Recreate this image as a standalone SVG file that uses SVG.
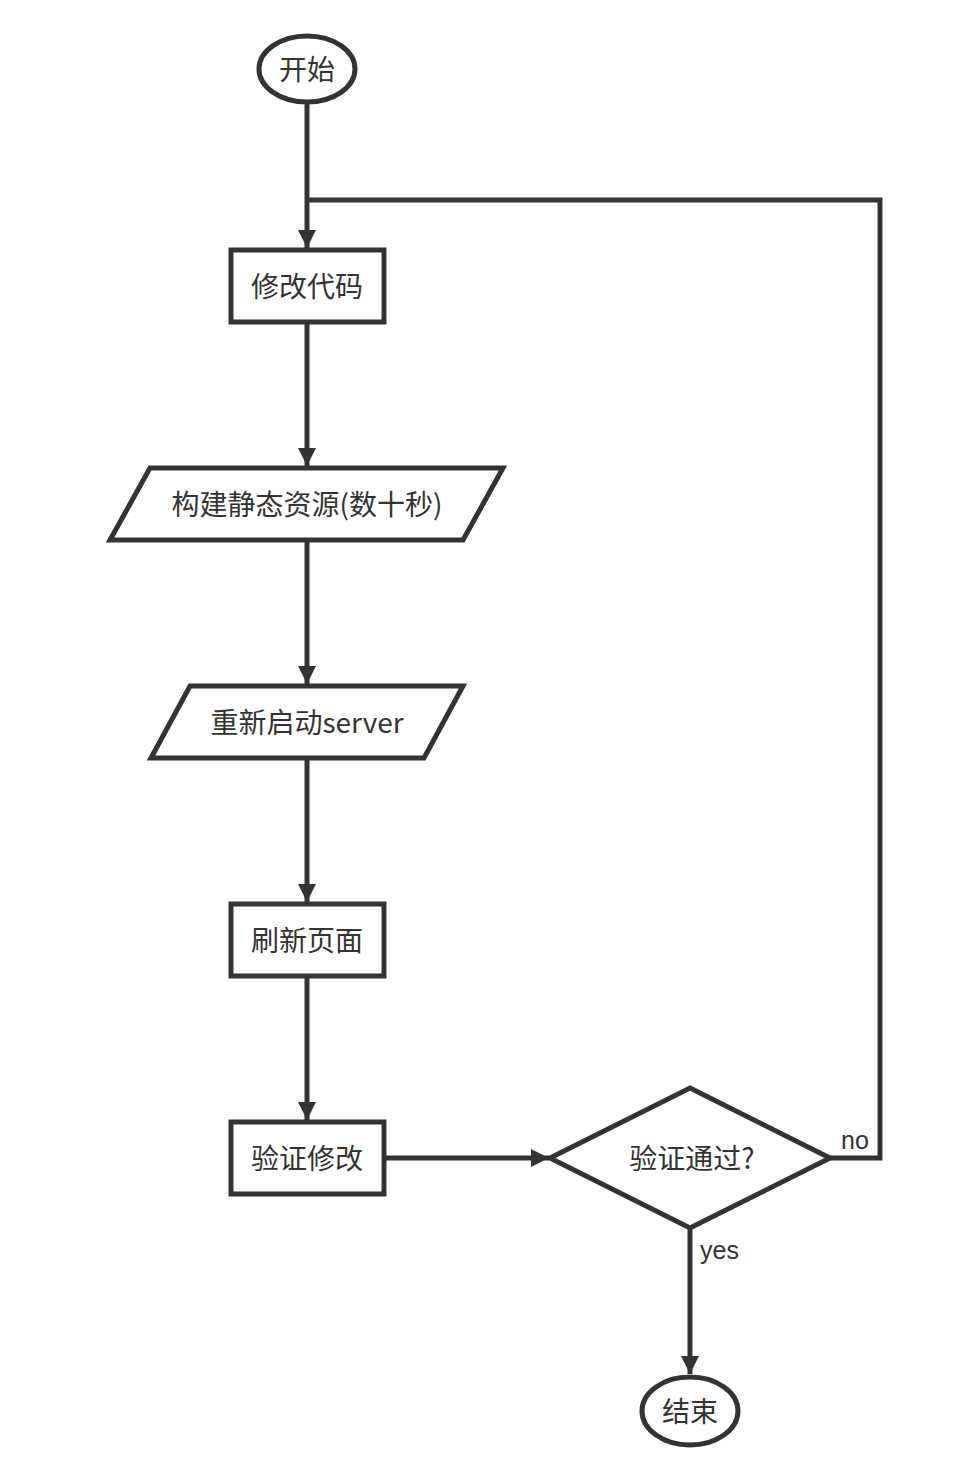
<svg xmlns="http://www.w3.org/2000/svg" width="980" height="1470" viewBox="0 0 980 1470">
<style>
.s{fill:#fff;stroke:#333;stroke-width:5}
.t{font-family:"Noto Sans CJK SC","Liberation Sans",sans-serif;font-size:28px;fill:#333;text-anchor:middle;dominant-baseline:central}
.l{font-family:"Liberation Sans","Noto Sans CJK SC",sans-serif;font-size:25px;fill:#333}
.c{fill:none;stroke:#333;stroke-width:5}
</style>
<defs>
<marker id="a" viewBox="0 0 10 10" refX="10" refY="5" markerWidth="3.6" markerHeight="3.6" orient="auto" markerUnits="strokeWidth">
<path d="M0,0L10,5L0,10z" fill="#333"/>
</marker>
</defs>
<rect width="980" height="1470" fill="#fff"/>
<g id="connectors">
<path class="c" d="M307,102V248" marker-end="url(#a)"/>
<path class="c" d="M830,1158H880V200H307"/>
<path class="c" d="M307,322V466" marker-end="url(#a)"/>
<path class="c" d="M307,540V684" marker-end="url(#a)"/>
<path class="c" d="M307,758V902" marker-end="url(#a)"/>
<path class="c" d="M307,976V1120" marker-end="url(#a)"/>
<path class="c" d="M384,1158H549" marker-end="url(#a)"/>
<path class="c" d="M690,1228V1374" marker-end="url(#a)"/>
<text class="l" x="841" y="1149">no</text>
<text class="l" x="700" y="1259">yes</text>
</g>
<g id="start"><ellipse class="s" cx="307" cy="69" rx="48" ry="33"/><text class="t" x="307" y="68">开始</text></g>
<g id="edit"><rect class="s" x="231" y="250" width="153" height="72"/><text class="t" x="307" y="285">修改代码</text></g>
<g id="build"><path class="s" d="M150,468H503L463,540H110Z"/><text class="t" x="307" y="503">构建静态资源(数十秒)</text></g>
<g id="restart"><path class="s" d="M190,686H463L424,758H151Z"/><text class="t" x="307" y="721">重新启动server</text></g>
<g id="refresh"><rect class="s" x="231" y="904" width="153" height="72"/><text class="t" x="307" y="939">刷新页面</text></g>
<g id="verify"><rect class="s" x="231" y="1122" width="153" height="72"/><text class="t" x="307" y="1157">验证修改</text></g>
<g id="decision"><path class="s" d="M690,1088L830,1158L690,1228L550,1158Z"/><text class="t" x="692" y="1157">验证通过?</text></g>
<g id="end"><ellipse class="s" cx="690" cy="1411" rx="48" ry="34"/><text class="t" x="690" y="1410">结束</text></g>
</svg>
